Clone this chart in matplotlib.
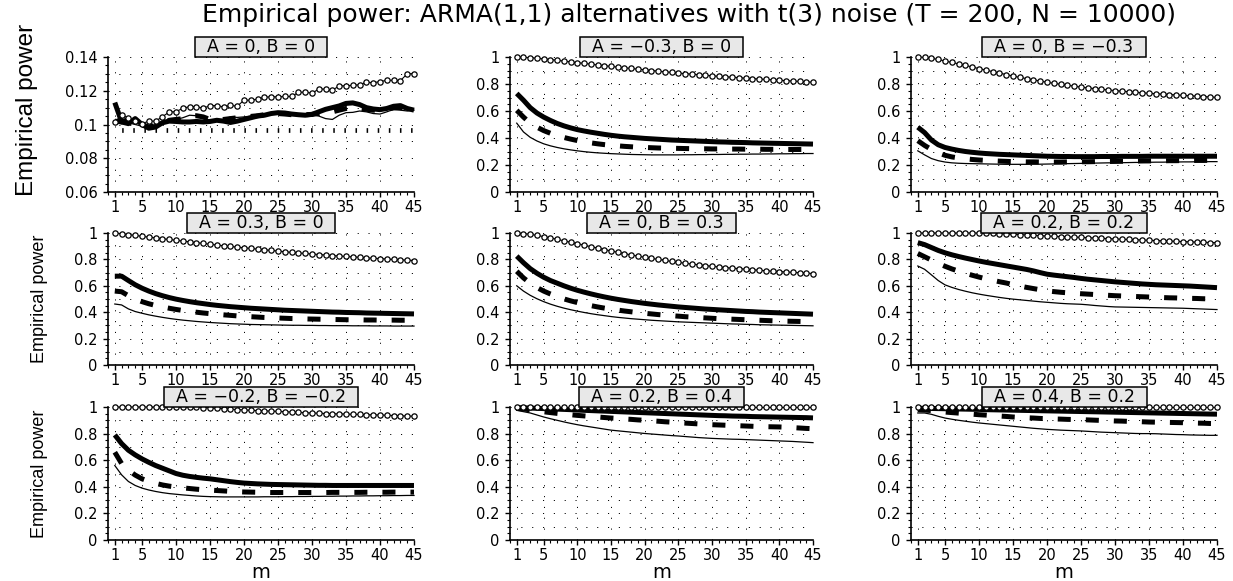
import matplotlib
matplotlib.use("Agg")
import matplotlib.pyplot as plt
from matplotlib.ticker import MultipleLocator
from matplotlib.patches import Rectangle
from matplotlib.transforms import IdentityTransform

plt.rcParams['font.family'] = ['DejaVu Sans']
plt.rcParams['lines.scale_dashes'] = False

m = list(range(1, 46))

suptitle = "Empirical power: ARMA(1,1) alternatives with t(3) noise (T = 200, N = 10000)"
titles = ["A = 0, B = 0", "A = \u22120.3, B = 0", "A = 0, B = \u22120.3",
          "A = 0.3, B = 0", "A = 0, B = 0.3", "A = 0.2, B = 0.2",
          "A = \u22120.2, B = \u22120.2", "A = 0.2, B = 0.4", "A = 0.4, B = 0.2"]

# ---- panel 1: A = 0, B = 0 ----
circ_1 = [0.1016, 0.1054, 0.1040, 0.1020, 0.1005, 0.1020, 0.1020, 0.1046, 0.1074, 0.1076,
          0.1096, 0.1106, 0.1106, 0.1096, 0.1112, 0.1112, 0.1104, 0.1114, 0.1108, 0.1144,
          0.1144, 0.1150, 0.1162, 0.1164, 0.1164, 0.1166, 0.1166, 0.1190, 0.1192, 0.1186,
          0.1210, 0.1210, 0.1204, 0.1228, 0.1230, 0.1232, 0.1236, 0.1250, 0.1248, 0.1254,
          0.1262, 0.1262, 0.1260, 0.1300, 0.1302]
thick_1 = [0.1130, 0.1015, 0.1005, 0.1035, 0.1000, 0.0978, 0.0985, 0.1010, 0.1020, 0.1018,
           0.1015, 0.1015, 0.1018, 0.1015, 0.1018, 0.1025, 0.1020, 0.1012, 0.1020, 0.1030,
           0.1040, 0.1050, 0.1055, 0.1065, 0.1070, 0.1068, 0.1062, 0.1058, 0.1055, 0.1060,
           0.1075, 0.1090, 0.1100, 0.1110, 0.1125, 0.1128, 0.1118, 0.1100, 0.1092, 0.1088,
           0.1095, 0.1108, 0.1112, 0.1095, 0.1085]
dash_1 = [0.1020, 0.1015, 0.1030, 0.1020, 0.1000, 0.0985, 0.0995, 0.1015, 0.1025, 0.1030,
          0.1035, 0.1050, 0.1052, 0.1045, 0.1030, 0.1028, 0.1030, 0.1035, 0.1040, 0.1045,
          0.1048, 0.1052, 0.1058, 0.1062, 0.1065, 0.1062, 0.1058, 0.1055, 0.1058, 0.1060,
          0.1065, 0.1070, 0.1075, 0.1085, 0.1095, 0.1100, 0.1098, 0.1090, 0.1085, 0.1085,
          0.1090, 0.1098, 0.1100, 0.1092, 0.1088]
thin_1 = [0.1010, 0.1020, 0.1010, 0.1000, 0.0990, 0.0990, 0.1000, 0.1020, 0.1030, 0.1030,
          0.1040, 0.1055, 0.1052, 0.1035, 0.1025, 0.1025, 0.1030, 0.1045, 0.1042, 0.1045,
          0.1050, 0.1055, 0.1062, 0.1068, 0.1070, 0.1062, 0.1055, 0.1055, 0.1060, 0.1060,
          0.1050, 0.1035, 0.1030, 0.1055, 0.1070, 0.1072, 0.1080, 0.1075, 0.1065, 0.1062,
          0.1075, 0.1090, 0.1085, 0.1080, 0.1085]
nominal_level_1 = 0.097

# ---- panel 2: A = -0.3, B = 0 ----
circ_2 = [1.000, 0.998, 0.995, 0.991, 0.986, 0.981, 0.976, 0.970, 0.964, 0.958,
          0.953, 0.947, 0.941, 0.936, 0.930, 0.925, 0.920, 0.915, 0.910, 0.905,
          0.900, 0.895, 0.890, 0.886, 0.881, 0.877, 0.873, 0.869, 0.865, 0.861,
          0.857, 0.854, 0.850, 0.847, 0.843, 0.840, 0.837, 0.834, 0.831, 0.828,
          0.825, 0.822, 0.819, 0.816, 0.813]
thick_2 = [0.730, 0.680, 0.625, 0.585, 0.555, 0.530, 0.508, 0.490, 0.475, 0.462,
           0.452, 0.443, 0.435, 0.427, 0.420, 0.414, 0.409, 0.405, 0.401, 0.397,
           0.394, 0.391, 0.388, 0.385, 0.383, 0.381, 0.379, 0.377, 0.375, 0.373,
           0.371, 0.370, 0.368, 0.367, 0.366, 0.364, 0.363, 0.362, 0.361, 0.360,
           0.359, 0.358, 0.357, 0.356, 0.355]
dash_2 = [0.605, 0.555, 0.510, 0.480, 0.455, 0.435, 0.418, 0.404, 0.392, 0.381,
          0.372, 0.364, 0.357, 0.351, 0.346, 0.342, 0.338, 0.335, 0.332, 0.330,
          0.328, 0.326, 0.325, 0.324, 0.323, 0.322, 0.321, 0.320, 0.320, 0.319,
          0.319, 0.318, 0.318, 0.318, 0.317, 0.317, 0.317, 0.316, 0.316, 0.316,
          0.315, 0.315, 0.315, 0.315, 0.315]
thin_2 = [0.510, 0.445, 0.405, 0.378, 0.357, 0.342, 0.330, 0.320, 0.312, 0.305,
          0.299, 0.294, 0.290, 0.287, 0.284, 0.282, 0.280, 0.278, 0.277, 0.276,
          0.275, 0.275, 0.275, 0.275, 0.275, 0.276, 0.276, 0.277, 0.277, 0.278,
          0.278, 0.279, 0.279, 0.280, 0.280, 0.281, 0.281, 0.282, 0.282, 0.283,
          0.283, 0.284, 0.284, 0.285, 0.285]

# ---- panel 3: A = 0, B = -0.3 ----
circ_3 = [1.000, 0.997, 0.990, 0.982, 0.970, 0.960, 0.949, 0.938, 0.926, 0.914,
          0.903, 0.892, 0.881, 0.870, 0.859, 0.849, 0.840, 0.831, 0.822, 0.813,
          0.805, 0.798, 0.791, 0.784, 0.777, 0.771, 0.766, 0.761, 0.756, 0.751,
          0.747, 0.743, 0.739, 0.735, 0.731, 0.728, 0.725, 0.722, 0.719, 0.716,
          0.713, 0.710, 0.707, 0.704, 0.701]
thick_3 = [0.480, 0.440, 0.385, 0.350, 0.330, 0.318, 0.308, 0.300, 0.294, 0.289,
           0.285, 0.282, 0.279, 0.277, 0.275, 0.273, 0.271, 0.269, 0.267, 0.265,
           0.264, 0.263, 0.263, 0.262, 0.262, 0.262, 0.262, 0.263, 0.263, 0.263,
           0.264, 0.264, 0.264, 0.264, 0.265, 0.265, 0.265, 0.265, 0.265, 0.265,
           0.265, 0.265, 0.265, 0.265, 0.265]
dash_3 = [0.380, 0.345, 0.315, 0.290, 0.272, 0.260, 0.252, 0.246, 0.241, 0.237,
          0.234, 0.231, 0.229, 0.227, 0.225, 0.224, 0.223, 0.223, 0.222, 0.222,
          0.222, 0.222, 0.223, 0.223, 0.224, 0.224, 0.225, 0.226, 0.226, 0.227,
          0.228, 0.228, 0.229, 0.230, 0.230, 0.231, 0.231, 0.232, 0.232, 0.233,
          0.233, 0.234, 0.234, 0.235, 0.235]
thin_3 = [0.305, 0.275, 0.248, 0.232, 0.222, 0.216, 0.213, 0.211, 0.210, 0.209,
          0.208, 0.207, 0.206, 0.205, 0.205, 0.205, 0.205, 0.206, 0.206, 0.207,
          0.208, 0.209, 0.210, 0.211, 0.212, 0.213, 0.214, 0.215, 0.216, 0.216,
          0.217, 0.218, 0.219, 0.219, 0.220, 0.221, 0.221, 0.222, 0.222, 0.223,
          0.223, 0.224, 0.224, 0.225, 0.225]

# ---- panel 4: A = 0.3, B = 0 ----
circ_4 = [1.000, 0.995, 0.988, 0.982, 0.975, 0.969, 0.963, 0.957, 0.951, 0.945,
          0.939, 0.933, 0.927, 0.921, 0.915, 0.909, 0.903, 0.898, 0.893, 0.888,
          0.883, 0.878, 0.873, 0.868, 0.863, 0.858, 0.853, 0.849, 0.845, 0.841,
          0.837, 0.833, 0.829, 0.826, 0.822, 0.819, 0.816, 0.812, 0.809, 0.806,
          0.803, 0.800, 0.797, 0.794, 0.791]
thick_4 = [0.673, 0.673, 0.640, 0.608, 0.582, 0.560, 0.541, 0.525, 0.511, 0.499,
           0.489, 0.480, 0.472, 0.465, 0.458, 0.452, 0.447, 0.442, 0.438, 0.434,
           0.430, 0.427, 0.424, 0.421, 0.418, 0.415, 0.413, 0.411, 0.409, 0.407,
           0.405, 0.403, 0.401, 0.400, 0.398, 0.397, 0.396, 0.394, 0.393, 0.392,
           0.391, 0.390, 0.389, 0.388, 0.387]
dash_4 = [0.560, 0.555, 0.525, 0.500, 0.480, 0.464, 0.451, 0.440, 0.430, 0.421,
          0.413, 0.406, 0.400, 0.394, 0.389, 0.384, 0.380, 0.376, 0.372, 0.369,
          0.366, 0.363, 0.360, 0.358, 0.356, 0.354, 0.352, 0.351, 0.349, 0.348,
          0.347, 0.346, 0.345, 0.344, 0.343, 0.342, 0.342, 0.341, 0.341, 0.340,
          0.340, 0.340, 0.339, 0.339, 0.339]
thin_4 = [0.462, 0.455, 0.425, 0.405, 0.392, 0.380, 0.370, 0.361, 0.353, 0.346,
          0.340, 0.335, 0.330, 0.326, 0.322, 0.319, 0.316, 0.313, 0.311, 0.309,
          0.307, 0.306, 0.305, 0.304, 0.303, 0.302, 0.301, 0.301, 0.300, 0.300,
          0.299, 0.299, 0.298, 0.298, 0.298, 0.297, 0.297, 0.297, 0.296, 0.296,
          0.296, 0.295, 0.295, 0.295, 0.295]

# ---- panel 5: A = 0, B = 0.3 ----
circ_5 = [1.000, 0.996, 0.990, 0.982, 0.973, 0.963, 0.952, 0.941, 0.930, 0.919,
          0.908, 0.897, 0.886, 0.875, 0.864, 0.854, 0.844, 0.834, 0.825, 0.816,
          0.808, 0.800, 0.792, 0.785, 0.778, 0.771, 0.765, 0.759, 0.753, 0.748,
          0.743, 0.738, 0.734, 0.730, 0.726, 0.722, 0.718, 0.714, 0.711, 0.708,
          0.705, 0.702, 0.699, 0.696, 0.693]
thick_5 = [0.825, 0.775, 0.730, 0.695, 0.665, 0.640, 0.620, 0.600, 0.582, 0.566,
           0.552, 0.539, 0.527, 0.516, 0.506, 0.497, 0.489, 0.481, 0.474, 0.467,
           0.461, 0.455, 0.450, 0.445, 0.440, 0.436, 0.432, 0.428, 0.424, 0.421,
           0.418, 0.415, 0.412, 0.409, 0.406, 0.404, 0.401, 0.399, 0.397, 0.395,
           0.393, 0.391, 0.389, 0.387, 0.385]
dash_5 = [0.710, 0.660, 0.620, 0.587, 0.560, 0.538, 0.518, 0.501, 0.486, 0.473,
          0.461, 0.450, 0.440, 0.431, 0.423, 0.416, 0.409, 0.403, 0.397, 0.392,
          0.387, 0.382, 0.378, 0.374, 0.370, 0.366, 0.363, 0.360, 0.357, 0.354,
          0.351, 0.349, 0.347, 0.345, 0.343, 0.341, 0.339, 0.337, 0.335, 0.334,
          0.332, 0.331, 0.330, 0.329, 0.328]
thin_5 = [0.600, 0.560, 0.528, 0.502, 0.480, 0.461, 0.445, 0.431, 0.419, 0.408,
          0.398, 0.389, 0.381, 0.374, 0.367, 0.361, 0.356, 0.351, 0.347, 0.343,
          0.339, 0.336, 0.333, 0.330, 0.327, 0.325, 0.323, 0.321, 0.319, 0.317,
          0.315, 0.313, 0.311, 0.310, 0.308, 0.307, 0.305, 0.304, 0.303, 0.302,
          0.301, 0.300, 0.299, 0.298, 0.297]

# ---- panel 6: A = 0.2, B = 0.2 ----
circ_6 = [1.000, 1.000, 1.000, 1.000, 1.000, 1.000, 1.000, 1.000, 1.000, 1.000,
          0.998, 0.997, 0.995, 0.993, 0.990, 0.988, 0.985, 0.983, 0.980, 0.977,
          0.975, 0.973, 0.971, 0.969, 0.967, 0.964, 0.962, 0.960, 0.957, 0.955,
          0.953, 0.951, 0.949, 0.947, 0.945, 0.943, 0.941, 0.939, 0.937, 0.935,
          0.933, 0.931, 0.930, 0.928, 0.927]
thick_6 = [0.927, 0.912, 0.890, 0.868, 0.850, 0.835, 0.822, 0.810, 0.799, 0.788,
           0.778, 0.769, 0.760, 0.751, 0.742, 0.733, 0.724, 0.713, 0.700, 0.688,
           0.681, 0.675, 0.669, 0.663, 0.656, 0.650, 0.645, 0.640, 0.635, 0.630,
           0.626, 0.622, 0.618, 0.614, 0.611, 0.608, 0.606, 0.604, 0.602, 0.600,
           0.598, 0.595, 0.592, 0.589, 0.586]
dash_6 = [0.845, 0.820, 0.795, 0.770, 0.748, 0.728, 0.711, 0.695, 0.680, 0.666,
          0.653, 0.642, 0.631, 0.621, 0.609, 0.598, 0.588, 0.579, 0.570, 0.562,
          0.556, 0.551, 0.547, 0.543, 0.540, 0.537, 0.534, 0.531, 0.528, 0.525,
          0.523, 0.521, 0.519, 0.517, 0.515, 0.513, 0.511, 0.509, 0.508, 0.506,
          0.505, 0.504, 0.502, 0.501, 0.500]
thin_6 = [0.750, 0.725, 0.683, 0.640, 0.607, 0.588, 0.572, 0.559, 0.547, 0.537,
          0.528, 0.520, 0.512, 0.505, 0.499, 0.494, 0.489, 0.484, 0.479, 0.475,
          0.471, 0.467, 0.464, 0.462, 0.460, 0.456, 0.451, 0.447, 0.443, 0.440,
          0.439, 0.438, 0.437, 0.436, 0.435, 0.434, 0.433, 0.432, 0.431, 0.430,
          0.428, 0.426, 0.424, 0.422, 0.420]

# ---- panel 7: A = -0.2, B = -0.2 ----
circ_7 = [1.000, 1.000, 1.000, 1.000, 1.000, 1.000, 1.000, 1.000, 1.000, 1.000,
          1.000, 0.999, 0.998, 0.996, 0.993, 0.990, 0.987, 0.984, 0.981, 0.978,
          0.975, 0.973, 0.971, 0.969, 0.967, 0.965, 0.962, 0.960, 0.957, 0.955,
          0.953, 0.951, 0.949, 0.948, 0.947, 0.945, 0.944, 0.942, 0.941, 0.940,
          0.938, 0.936, 0.934, 0.932, 0.931]
thick_7 = [0.790, 0.725, 0.675, 0.640, 0.610, 0.584, 0.560, 0.540, 0.520, 0.500,
           0.487, 0.478, 0.471, 0.465, 0.460, 0.453, 0.446, 0.439, 0.433, 0.428,
           0.425, 0.422, 0.420, 0.418, 0.417, 0.416, 0.415, 0.414, 0.413, 0.412,
           0.411, 0.411, 0.410, 0.410, 0.410, 0.410, 0.410, 0.410, 0.410, 0.410,
           0.410, 0.410, 0.410, 0.410, 0.410]
dash_7 = [0.660, 0.575, 0.525, 0.488, 0.460, 0.441, 0.426, 0.414, 0.405, 0.398,
          0.392, 0.387, 0.382, 0.378, 0.375, 0.372, 0.369, 0.366, 0.363, 0.361,
          0.360, 0.359, 0.358, 0.357, 0.357, 0.357, 0.357, 0.357, 0.357, 0.357,
          0.357, 0.357, 0.358, 0.358, 0.358, 0.358, 0.358, 0.359, 0.359, 0.359,
          0.359, 0.360, 0.360, 0.360, 0.360]
thin_7 = [0.560, 0.490, 0.440, 0.410, 0.390, 0.376, 0.365, 0.356, 0.349, 0.344,
          0.339, 0.335, 0.331, 0.328, 0.326, 0.325, 0.324, 0.324, 0.324, 0.324,
          0.324, 0.324, 0.325, 0.325, 0.325, 0.326, 0.326, 0.327, 0.327, 0.328,
          0.328, 0.329, 0.329, 0.330, 0.330, 0.331, 0.331, 0.332, 0.332, 0.333,
          0.333, 0.334, 0.334, 0.335, 0.335]

# ---- panel 8: A = 0.2, B = 0.4 ----
circ_8 = [1.000, 1.000, 1.000, 1.000, 1.000, 1.000, 1.000, 1.000, 1.000, 1.000,
          1.000, 1.000, 1.000, 1.000, 1.000, 1.000, 1.000, 1.000, 1.000, 1.000,
          1.000, 1.000, 1.000, 1.000, 1.000, 1.000, 1.000, 1.000, 1.000, 1.000,
          1.000, 1.000, 1.000, 1.000, 1.000, 1.000, 1.000, 1.000, 1.000, 1.000,
          1.000, 1.000, 1.000, 1.000, 1.000]
thick_8 = [0.995, 0.994, 0.992, 0.990, 0.988, 0.986, 0.984, 0.982, 0.980, 0.977,
           0.975, 0.973, 0.971, 0.969, 0.967, 0.965, 0.963, 0.961, 0.959, 0.957,
           0.955, 0.953, 0.951, 0.949, 0.947, 0.945, 0.943, 0.941, 0.939, 0.937,
           0.935, 0.934, 0.932, 0.931, 0.930, 0.928, 0.927, 0.926, 0.925, 0.924,
           0.923, 0.922, 0.921, 0.920, 0.918]
dash_8 = [0.990, 0.985, 0.979, 0.972, 0.964, 0.958, 0.952, 0.947, 0.942, 0.937,
          0.933, 0.929, 0.925, 0.921, 0.917, 0.914, 0.910, 0.907, 0.903, 0.900,
          0.896, 0.893, 0.889, 0.886, 0.882, 0.879, 0.876, 0.873, 0.870, 0.867,
          0.865, 0.863, 0.861, 0.859, 0.857, 0.855, 0.853, 0.852, 0.851, 0.850,
          0.848, 0.845, 0.842, 0.839, 0.837]
thin_8 = [0.975, 0.965, 0.955, 0.940, 0.925, 0.912, 0.900, 0.888, 0.877, 0.867,
          0.858, 0.850, 0.842, 0.834, 0.826, 0.821, 0.816, 0.811, 0.806, 0.801,
          0.797, 0.793, 0.789, 0.785, 0.782, 0.778, 0.774, 0.770, 0.767, 0.764,
          0.762, 0.760, 0.758, 0.757, 0.755, 0.753, 0.751, 0.749, 0.747, 0.745,
          0.743, 0.741, 0.738, 0.735, 0.732]

# ---- panel 9: A = 0.4, B = 0.2 ----
circ_9 = [1.000, 1.000, 1.000, 1.000, 1.000, 1.000, 1.000, 1.000, 1.000, 1.000,
          1.000, 1.000, 1.000, 1.000, 1.000, 1.000, 1.000, 1.000, 1.000, 1.000,
          1.000, 1.000, 1.000, 1.000, 1.000, 1.000, 1.000, 1.000, 1.000, 1.000,
          1.000, 1.000, 1.000, 1.000, 1.000, 1.000, 1.000, 1.000, 1.000, 1.000,
          1.000, 1.000, 1.000, 1.000, 1.000]
thick_9 = [0.990, 0.990, 0.989, 0.988, 0.987, 0.986, 0.985, 0.984, 0.983, 0.982,
           0.980, 0.979, 0.978, 0.977, 0.976, 0.975, 0.974, 0.973, 0.972, 0.971,
           0.970, 0.969, 0.968, 0.967, 0.966, 0.965, 0.964, 0.963, 0.962, 0.961,
           0.960, 0.959, 0.958, 0.957, 0.956, 0.955, 0.954, 0.953, 0.952, 0.951,
           0.950, 0.949, 0.948, 0.947, 0.946]
dash_9 = [0.980, 0.977, 0.973, 0.968, 0.962, 0.958, 0.954, 0.950, 0.946, 0.942,
          0.939, 0.935, 0.932, 0.929, 0.925, 0.922, 0.919, 0.917, 0.914, 0.912,
          0.910, 0.909, 0.907, 0.906, 0.905, 0.903, 0.901, 0.899, 0.897, 0.895,
          0.894, 0.892, 0.891, 0.889, 0.887, 0.886, 0.885, 0.884, 0.883, 0.882,
          0.880, 0.879, 0.878, 0.876, 0.875]
thin_9 = [0.955, 0.955, 0.945, 0.930, 0.917, 0.908, 0.900, 0.893, 0.886, 0.880,
          0.875, 0.870, 0.865, 0.860, 0.855, 0.850, 0.845, 0.840, 0.836, 0.832,
          0.829, 0.826, 0.824, 0.822, 0.820, 0.817, 0.814, 0.811, 0.809, 0.807,
          0.805, 0.803, 0.801, 0.800, 0.800, 0.799, 0.797, 0.795, 0.793, 0.792,
          0.790, 0.789, 0.788, 0.787, 0.787]

circles = [circ_1, circ_2, circ_3, circ_4, circ_5, circ_6, circ_7, circ_8, circ_9]
thicks = [thick_1, thick_2, thick_3, thick_4, thick_5, thick_6, thick_7, thick_8, thick_9]
dashes_ = [dash_1, dash_2, dash_3, dash_4, dash_5, dash_6, dash_7, dash_8, dash_9]
thins = [thin_1, thin_2, thin_3, thin_4, thin_5, thin_6, thin_7, thin_8, thin_9]
for grp in (circles, thicks, dashes_, thins):
    for s in grp:
        assert len(s) == len(m), len(s)

xticks = [1, 5, 10, 15, 20, 25, 30, 35, 40, 45]
yticks_p1 = [0.06, 0.08, 0.10, 0.12, 0.14]
ylabels_p1 = ['0.06', '0.08', '0.1', '0.12', '0.14']
yticks = [0, 0.2, 0.4, 0.6, 0.8, 1.0]
ylabels = ['0', '0.2', '0.4', '0.6', '0.8', '1']

W, H = 1233, 581
fig = plt.figure(figsize=(W / 100, H / 100), dpi=100)
col_px = [(108, 306), (510, 303), (911, 306)]
row_px = [(57, 192), (233, 365), (407, 540)]

dot = (0, (0.8, 7.0))
for i in range(9):
    r, c = divmod(i, 3)
    x0, w = col_px[c]
    top, bot = row_px[r]
    ax = fig.add_axes([x0 / W, 1 - bot / H, w / W, (bot - top) / H])

    ax.plot(m, thicks[i], color='black', lw=3.6, solid_capstyle='butt',
            solid_joinstyle='round', zorder=3, clip_on=False)
    ax.plot(m, dashes_[i], color='black', lw=3.6, linestyle=(0, (9.4, 10.8)),
            dash_capstyle='butt', zorder=4, clip_on=False)
    ax.plot(m, thins[i], color='black', lw=0.9, zorder=5, clip_on=False)
    ax.plot(m, circles[i], color='black', lw=0.8, marker='o', ms=3.8,
            mfc='white', mec='black', mew=0.9, zorder=6, clip_on=False)

    ax.set_xlim(0, 45)
    if i == 0:
        ax.set_ylim(0.06, 0.14)
        ax.set_yticks(yticks_p1, ylabels_p1)
        step = 0.02
        ax.axhline(nominal_level_1, xmin=1 / 45, xmax=1, color='black', lw=3.4,
                   linestyle=(3.2, (1.1, 6.9)), dash_capstyle='butt', zorder=2)
        glevels = [0.07, 0.08, 0.09, 0.10, 0.11, 0.12, 0.13, 0.14]
    else:
        ax.set_ylim(0, 1)
        ax.set_yticks(yticks, ylabels)
        step = 0.2
        glevels = [0.1, 0.2, 0.3, 0.4, 0.5, 0.6, 0.7, 0.8, 0.9, 1.0]
    for g in glevels:
        ax.axhline(g, color='black', lw=0.7, linestyle=dot, zorder=1)
    ax.yaxis.set_minor_locator(MultipleLocator(step / 4))
    ax.set_xticks(xticks, [str(v) for v in xticks])
    ax.xaxis.set_minor_locator(MultipleLocator(1))
    ax.grid(True, axis='x', which='major', color='black', lw=0.7, linestyle=dot, zorder=1)
    ax.set_axisbelow(True)

    for side in ('top', 'right'):
        ax.spines[side].set_visible(False)
    for side in ('left', 'bottom'):
        ax.spines[side].set_linewidth(1.2)
    ax.tick_params(axis='both', which='major', direction='out', length=3.5, width=1,
                   labelsize=10.5, pad=2, colors='black')
    ax.tick_params(axis='y', which='major', pad=4)
    ax.tick_params(axis='both', which='minor', direction='out', length=2, width=0.8)

    if c == 0:
        if r == 0:
            ax.set_ylabel('Empirical power', fontsize=17.5, family=['Liberation Sans', 'DejaVu Sans'])
            ax.yaxis.set_label_coords((38 - 108) / 306, (192 - 110) / 135)
        else:
            ax.set_ylabel('Empirical power', fontsize=13,
                          family=['Liberation Sans', 'DejaVu Sans'])
            ax.yaxis.set_label_coords((48 - 108) / 306, 0.5)
    if r == 2:
        ax.set_xlabel('m', fontsize=14, labelpad=0)

fig.text(689 / W, 1 - 15 / H, suptitle, ha='center', va='center', fontsize=18)

# subplot titles in grey boxes sitting on the axes top
box_h = 20
texts = []
for i in range(9):
    r, c = divmod(i, 3)
    x0, w = col_px[c]
    top, bot = row_px[r]
    cx = x0 + w / 2
    t = fig.text(cx / W, (H - top + box_h / 2) / H, titles[i], ha='center', va='center',
                 fontsize=12.5, zorder=11)
    texts.append((t, top))

fig.canvas.draw()
renderer = fig.canvas.get_renderer()
for t, top in texts:
    bb = t.get_window_extent(renderer)
    padx = 12
    rect = Rectangle((bb.x0 - padx, H - top), bb.width + 2 * padx, box_h,
                     transform=IdentityTransform(), facecolor='#e8e8e8',
                     edgecolor='black', lw=1.1, zorder=10)
    fig.add_artist(rect)

fig.savefig('out.png', dpi=100)
